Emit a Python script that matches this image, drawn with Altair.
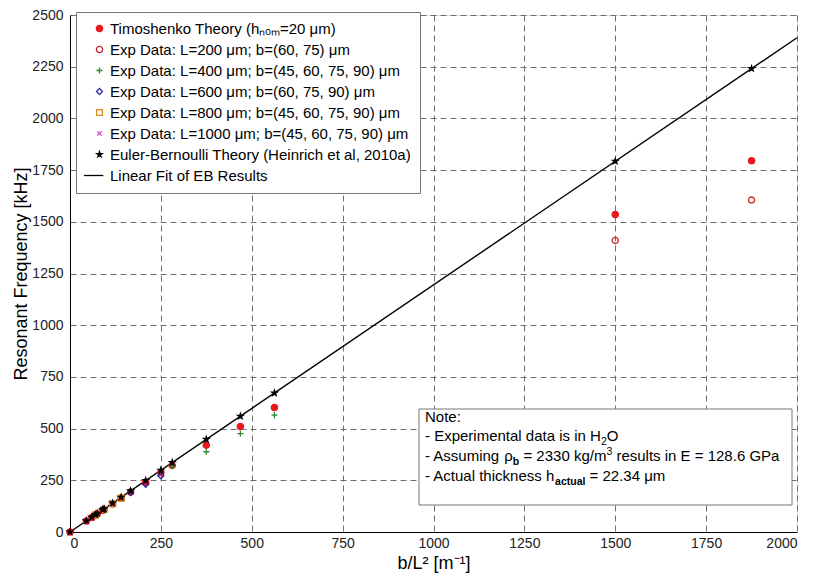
import altair as alt
import pandas as pd

# ---------------- data ----------------
SERIES = [
    "Timoshenko Theory (hₙₒₘ=20 μm)",
    "Exp Data: L=200 μm; b=(60, 75) μm",
    "Exp Data: L=400 μm; b=(45, 60, 75, 90) μm",
    "Exp Data: L=600 μm; b=(60, 75, 90) μm",
    "Exp Data: L=800 μm; b=(45, 60, 75, 90) μm",
    "Exp Data: L=1000 μm; b=(45, 60, 75, 90) μm",
    "Euler-Bernoulli Theory (Heinrich et al, 2010a)",
    "Linear Fit of EB Results",
]

theory_x = [0, 45, 60, 70.3, 75, 90, 93.75, 117.2, 140.6, 166.7, 208.3, 250,
            281.25, 375, 468.75, 562.5, 1500, 1875]
timo_y = [0, 53, 70, 82, 88, 105, 110, 136, 163, 193, 240, 288,
          322, 420, 510, 602, 1535, 1795]
eb_y = [0, 54, 72, 84, 90, 108, 112, 140, 168, 199, 249, 299,
        336, 448, 560, 672, 1793, 2241]

l200_x = [1500, 1875]
l200_y = [1410, 1605]
l400_x = [281.25, 375, 468.75, 562.5]
l400_y = [318, 388, 476, 565]
l600_x = [166.7, 208.3, 250]
l600_y = [190, 231, 272]
l800_x = [70.3, 93.75, 117.2, 140.6]
l800_y = [82, 109, 137, 164]
l1000_x = [45, 60, 75, 90]
l1000_y = [52, 69, 86, 104]

fit_x = [0, 2000]
fit_y = [0, 2390]

rows = []
for s, xs, ys in [
    (SERIES[0], theory_x, timo_y),
    (SERIES[1], l200_x, l200_y),
    (SERIES[2], l400_x, l400_y),
    (SERIES[3], l600_x, l600_y),
    (SERIES[4], l800_x, l800_y),
    (SERIES[5], l1000_x, l1000_y),
    (SERIES[6], theory_x, eb_y),
]:
    for x, y in zip(xs, ys):
        rows.append({"x": x, "y": y, "series": s})
pts = pd.DataFrame(rows)
fit = pd.DataFrame({"x": fit_x, "y": fit_y})

# ---------------- styles ----------------
FONT = "Liberation Sans"
PLUS = "M-1,0L1,0M0,-1L0,1"
XMARK = "M-0.75,-0.75L0.75,0.75M0.75,-0.75L-0.75,0.75"
STAR = ("M0,-1L0.2245,-0.309L0.951,-0.309L0.363,0.118L0.588,0.809L0,0.382"
        "L-0.588,0.809L-0.363,0.118L-0.951,-0.309L-0.2245,-0.309Z")
LINE = "M-5.7,0L1.4,0"

shapes = ["circle", "circle", PLUS, "diamond", "square", XMARK, STAR, LINE]
strokes = ["#e8191e", "#c0292b", "#2d8a2d", "#2c2ca8", "#d98a1e", "#d23ad2", "#000000", "#000000"]
fills = ["#e8191e", "transparent", "transparent", "transparent", "transparent",
         "transparent", "#000000", "transparent"]
sizes = [40, 30, 45, 35, 35, 35, 60, 49]

TOP = 7
W, H = 727, 517
xsc = alt.Scale(domain=[0, 2000], nice=False, zero=False)
ysc = alt.Scale(domain=[0, 2500], nice=False, zero=False)

axis_common = dict(grid=True, gridDash=[6, 4], gridColor="#6e6e6e", gridWidth=1,
                   ticks=False, domainColor="black", labelFont=FONT, format="d",
                   labelFontSize=14, labelColor="#222", titleFont=FONT,
                   titleFontSize=18, titleFontWeight="normal", titleColor="black")

xaxis = alt.Axis(values=list(range(0, 2001, 250)), title="b/L² [m⁻¹]",
                 labelPadding=4, titlePadding=4, **axis_common)
yaxis = alt.Axis(values=list(range(0, 2501, 250)), title="Resonant Frequency [kHz]",
                 labelPadding=7, titlePadding=1, **axis_common)

line = alt.Chart(fit).mark_line(color="black", strokeWidth=1.4).encode(
    x=alt.X("x:Q", scale=xsc, axis=xaxis),
    y=alt.Y("y:Q", scale=ysc, axis=yaxis),
)

legend = alt.Legend(orient="none", legendX=6, legendY=12 - 8 - TOP, title=None,
                    fillColor="white", strokeColor="#777", padding=9,
                    labelFont=FONT, labelFontSize=15, labelColor="black",
                    labelLimit=600, rowPadding=5, symbolOffset=7, labelOffset=3,
                    symbolStrokeWidth=1.3, cornerRadius=0)

points = alt.Chart(pts).mark_point(opacity=1, strokeWidth=1.3).encode(
    x=alt.X("x:Q", scale=xsc, axis=xaxis),
    y=alt.Y("y:Q", scale=ysc, axis=yaxis),
    shape=alt.Shape("series:N", scale=alt.Scale(domain=SERIES, range=shapes), legend=legend),
    stroke=alt.Stroke("series:N", scale=alt.Scale(domain=SERIES, range=strokes), legend=legend),
    fill=alt.Fill("series:N", scale=alt.Scale(domain=SERIES, range=fills), legend=legend),
    size=alt.Size("series:N", scale=alt.Scale(domain=SERIES, range=sizes), legend=legend),
)

# ---------------- note box ----------------
AW = {" ": 278, "-": 333, ":": 278, ".": 278, ",": 278, "/": 278, "=": 584,
      "A": 667, "E": 667, "G": 778, "H": 722, "N": 722, "O": 778, "P": 667,
      "a": 556, "b": 556, "c": 500, "d": 556, "e": 556, "g": 556, "h": 556,
      "i": 222, "k": 500, "l": 222, "m": 833, "n": 556, "o": 556, "p": 556,
      "r": 333, "s": 500, "t": 278, "u": 556, "x": 500, "y": 500,
      "ρ": 577, "μ": 577}
BW = {"a": 556, "b": 611, "c": 556, "t": 333, "u": 611, "l": 278}


def tw(s, size, bold=False):
    tab = BW if bold else AW
    return sum(tab.get(c, AW.get(c, 556)) for c in s) * size / 1000.0


NOTE_LINES = [
    [("Note:", 15, False, 0)],
    [("- Experimental data is in H", 15, False, 0), ("2", 10.5, False, 4), ("O", 15, False, 0)],
    [("- Assuming ", 15, False, 0), ("ρ", 15, False, 0), ("b", 10.5, True, 4),
     (" = 2330 kg/m", 15, False, 0), ("3", 10.5, False, -6),
     (" results in E = 128.6 GPa", 15, False, 0)],
    [("- Actual thickness h", 15, False, 0), ("actual", 10.5, True, 4),
     (" = 22.34 μm", 15, False, 0)],
]
NOTE_X0 = 355
NOTE_BASE = [422 - 8 - TOP, 441 - 8 - TOP, 461 - 8 - TOP, 481 - 8 - TOP]
BOX = (349, 722, 409 - 8 - TOP, 505 - 8 - TOP)

one = pd.DataFrame({"a": [0]})
note_layers = [
    alt.Chart(one).mark_rect(fill="white", stroke="#777", strokeWidth=1).encode(
        x=alt.value(BOX[0]), x2=alt.value(BOX[1]), y=alt.value(BOX[2]), y2=alt.value(BOX[3]))
]
for base, pieces in zip(NOTE_BASE, NOTE_LINES):
    cx = NOTE_X0
    for txt, sz, bold, dy in pieces:
        stripped = txt.lstrip(" ")
        cx += tw(txt[: len(txt) - len(stripped)], sz, bold)  # leading spaces as a gap
        body = stripped.rstrip(" ")
        note_layers.append(
            alt.Chart(one).mark_text(align="left", baseline="alphabetic", font=FONT,
                                     fontSize=sz, fontWeight="bold" if bold else "normal",
                                     color="black").encode(
                x=alt.value(cx), y=alt.value(base + dy), text=alt.value(body))
        )
        cx += tw(stripped, sz, bold)

chart = alt.layer(line, points, *note_layers).properties(
    width=W, height=H,
    autosize=alt.AutoSizeParams(type="none"),
    padding={"left": 62, "top": TOP, "right": 10, "bottom": 42},
).configure_view(stroke="black", strokeWidth=1).configure(background="white")

chart.save("out.html", embed_options={"renderer": "svg", "actions": False})
